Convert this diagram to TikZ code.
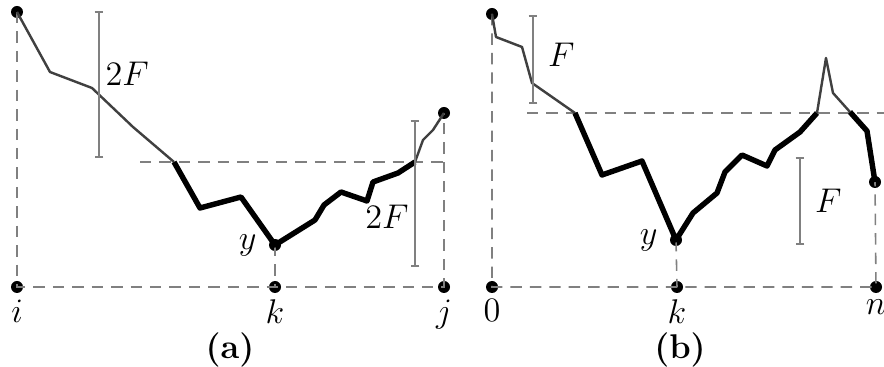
\documentclass[tikz,border=0pt]{standalone}
\usepackage{amsmath}
\usepackage{xcolor}
\usepackage{tikz}
\usetikzlibrary{arrows.meta,positioning}

\begin{document}
\begin{tikzpicture}[
  x=0.35pt, y=-0.35pt,
  every node/.style={font=\large},
  dot/.style={circle, fill=black, inner sep=0pt, minimum size=4.2pt},
  guide/.style={gray, line width=0.55pt, dash pattern=on 4pt off 2.8pt},
  walk/.style={black!75, line width=0.85pt, line join=round},
  low/.style={black, line width=1.9pt, line join=round},
  bar/.style={gray, line width=0.55pt, {Bar[width=3pt]}-{Bar[width=3pt]}},
  lab/.style={inner sep=1pt, text=black}
]
\useasboundingbox (0,0) rectangle (884,367);

% (a)
\node[dot] (ai) at (17,287) {};
\node[dot] (ak) at (275,287) {};
\node[dot] (aj) at (444,287) {};
\node[dot] (atop) at (17,12) {};
\node[dot] (aend) at (444,113) {};
\node[dot] (ay) at (275,245) {};
\coordinate (aleft) at (174,162);
\coordinate (aright) at (415,162);
\coordinate (ahl) at (140,162);

\node[lab, below=1pt of ai] {$i$};
\node[lab, below=1pt of ak] {$k$};
\node[lab, below=1pt of aj] {$j$};
\node[lab, left=3pt of ay] {$y$};
\node at (230,350) {\textbf{(a)}};

\draw[guide] (atop.center) -- (ai.center) -- (ak.center) -- (aj.center) -- (aend.center);
\draw[guide] (ay.center) -- (ak.center);
\draw[guide] (ahl) -- (444,162);

\draw[walk] (atop.center) -- (50,72) -- (92,88) -- (133,127) -- (aleft);
\draw[low] (aleft) -- (200,208) -- (241,197) -- (ay.center) -- (315,220)
  -- (324,205) -- (341,192) -- (367,201) -- (373,182) -- (398,173) -- (aright);
\draw[walk] (aright) -- (423,140) -- (433,130) -- (aend.center);

\draw[bar] (99,11) -- node[lab, right=1pt, pos=0.43] {$2F$} (99,158);
\draw[bar] (415,120) -- node[lab, left=1pt, pos=0.66] {$2F$} (415,267);

% (b)
\node[dot] (b0) at (492,287) {};
\node[dot] (bk) at (677,287) {};
\node[dot] (bn) at (876,287) {};
\node[dot] (btop) at (492,14) {};
\node[dot] (bend) at (875,182) {};
\node[dot] (by) at (676,240) {};
\coordinate (bleft) at (575,113);
\coordinate (bmid) at (817,113);
\coordinate (bright) at (850,112);
\coordinate (bhl) at (527,113);

\node[lab, below=1pt of b0] {$0$};
\node[lab, below=1pt of bk] {$k$};
\node[lab, below=1pt of bn] {$n$};
\node[lab, left=3pt of by] {$y$};
\node at (680,350) {\textbf{(b)}};

\draw[guide] (btop.center) -- (b0.center) -- (bk.center) -- (bn.center) -- (bend.center);
\draw[guide] (by.center) -- (bk.center);
\draw[guide] (bhl) -- (884,113);

\draw[walk] (btop.center) -- (496,37) -- (522,47) -- (532,83) -- (bleft);
\draw[low] (bleft) -- (602,175) -- (642,161) -- (by.center) -- (693,213) -- (717,193)
  -- (725,172) -- (742,155) -- (767,166) -- (775,150) -- (800,132) -- (bmid);
\draw[walk] (bmid) -- (826,58) -- (833,93) -- (bright);
\draw[low] (bright) -- (867,131) -- (bend.center);

\draw[bar] (533,15) -- node[lab, right=4pt, pos=0.45] {$F$} (533,104);
\draw[bar] (800,157) -- node[lab, right=4pt, pos=0.5] {$F$} (800,245);
\end{tikzpicture}
\end{document}
